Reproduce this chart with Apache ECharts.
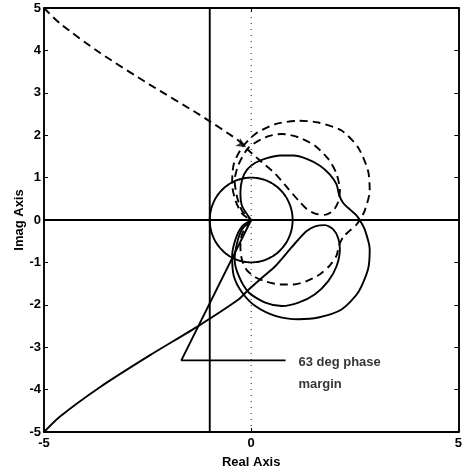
<!DOCTYPE html>
<html>
<head>
<meta charset="utf-8">
<script src="https://cdn.jsdelivr.net/npm/echarts@6/dist/echarts.min.js"></script>
<style>
  html, body { margin: 0; padding: 0; background: #fff; }
  #chart { width: 465px; height: 474px; }
</style>
</head>
<body>
<div id="chart"></div>
<script>
// Axis ranges and tick steps
const xRange = [-5, 5];
const yRange = [-5, 5];
const xStep = 5;
const yStep = 1;

// Positive-frequency branch: comes in from the lower left, runs through the
// small inner loop and ends at the origin
const tailLoop = [
  [-5.00, -5.00], [-4.62, -4.64], [-3.66, -3.95], [-2.46, -3.20], [-1.26, -2.49],
  [-0.30, -1.87], [-0.06, -1.64], [0.26, -1.36], [0.58, -1.09], [0.90, -0.73],
  [1.14, -0.46], [1.34, -0.26], [1.54, -0.15], [1.78, -0.12], [1.98, -0.22],
  [2.10, -0.43], [2.14, -0.69], [2.06, -1.09], [1.86, -1.44], [1.54, -1.75],
  [1.14, -1.95], [0.74, -2.03], [0.34, -1.95], [-0.06, -1.71], [-0.30, -1.32],
  [-0.40, -0.93], [-0.34, -0.54], [-0.22, -0.22], [0, 0]
];

// Second solid locus: upper lobe out to the real-axis crossing, then the
// large lower loop back to the origin
const bigLoop = [
  [0, 0], [-0.22, 0.33], [-0.26, 0.64], [-0.22, 0.95], [-0.10, 1.19], [0.10, 1.35],
  [0.38, 1.46], [0.70, 1.52], [1.02, 1.52], [1.34, 1.44], [1.66, 1.28], [1.90, 1.07],
  [2.06, 0.84], [2.12, 0.60], [2.22, 0.40], [2.38, 0.25], [2.54, 0.11], [2.62, 0],
  [2.74, -0.22], [2.86, -0.69], [2.82, -1.16], [2.58, -1.71], [2.18, -2.11],
  [1.62, -2.30], [1.14, -2.34], [0.58, -2.26], [0.10, -2.03], [-0.22, -1.71],
  [-0.42, -1.32], [-0.46, -0.85], [-0.38, -0.46], [-0.22, -0.15], [0, 0]
];

// Direction arrow on the negative-frequency branch: position and heading (deg)
const arrowAt = [-0.12, 1.72];
const arrowHeading = [-120];

// Phase-margin annotation
const phaseMarginDeg = [63];
const pmLineEndY = [-3.31];
const pmLabelEndX = [0.83];
const pmLabelText = ['63 deg phase', 'margin'];

// Unit circle (centre, radius)
const unitCircle = [0, 0, 1];

// Negative-frequency branch is the complex conjugate of the positive one
const conj = pts => pts.map(([re, im]) => [re, -im]);

const circlePts = [];
for (let i = 0; i <= 180; i++) {
  const a = (i / 180) * 2 * Math.PI;
  circlePts.push([unitCircle[0] + unitCircle[2] * Math.cos(a), unitCircle[1] + unitCircle[2] * Math.sin(a)]);
}

// Ray from the origin through the unit-circle crossing at -180 + PM degrees
const pmAng = (-180 + phaseMarginDeg[0]) * Math.PI / 180;
const pmT = pmLineEndY[0] / Math.sin(pmAng);
const pmCorner = [pmT * Math.cos(pmAng), pmLineEndY[0]];
const pmLine = [[0, 0], pmCorner, [pmLabelEndX[0], pmLineEndY[0]]];

const FONT = 'Liberation Sans, Arial, Helvetica, sans-serif';
const solid = { color: '#000', width: 1.9 };
const dashed = { color: '#000', width: 1.9, type: [8, 5] };

function lineSeries(data, style, z) {
  return {
    type: 'line', data, showSymbol: false, symbol: 'none', smooth: 0.25,
    lineStyle: style, silent: true, animation: false, z: z || 2, clip: true
  };
}

const labelFont = { color: '#000', fontFamily: FONT, fontWeight: 'bold', fontSize: 13 };

const chart = echarts.init(document.getElementById('chart'), null, { renderer: 'canvas' });
chart.setOption({
  backgroundColor: '#fff',
  animation: false,
  grid: { left: 44, top: 8, width: 417, height: 425, show: false },
  xAxis: [{
    type: 'value', min: xRange[0], max: xRange[1], interval: xStep,
    name: 'Real Axis', nameLocation: 'middle', nameGap: 24,
    nameTextStyle: labelFont,
    axisLine: { show: true, onZero: false, lineStyle: { color: '#000', width: 1.9 } },
    axisTick: { show: true, inside: true, length: 4, lineStyle: { color: '#000' } },
    axisLabel: Object.assign({ margin: 5 }, labelFont),
    splitLine: { show: false }
  }, {
    type: 'value', position: 'top', min: xRange[0], max: xRange[1], interval: xStep,
    axisLine: { show: true, onZero: false, lineStyle: { color: '#000', width: 1.9 } },
    axisTick: { show: true, inside: true, length: 4, lineStyle: { color: '#000' } },
    axisLabel: { show: false }, splitLine: { show: false }
  }],
  yAxis: [{
    type: 'value', min: yRange[0], max: yRange[1], interval: yStep,
    name: 'Imag Axis', nameLocation: 'middle', nameGap: 18, nameRotate: 90,
    nameMoveOverlap: false,
    nameTextStyle: labelFont,
    axisLine: { show: true, onZero: false, lineStyle: { color: '#000', width: 1.9 } },
    axisTick: { show: true, inside: true, length: 4, lineStyle: { color: '#000' } },
    axisLabel: Object.assign({ margin: 3 }, labelFont),
    splitLine: { show: false }
  }, {
    type: 'value', position: 'right', min: yRange[0], max: yRange[1], interval: yStep,
    axisLine: { show: true, onZero: false, lineStyle: { color: '#000', width: 1.9 } },
    axisTick: { show: true, inside: true, length: 4, lineStyle: { color: '#000' } },
    axisLabel: { show: false }, splitLine: { show: false }
  }],
  series: [
    // reference lines: real axis, the -1 line and the dotted imaginary axis
    { type: 'line', data: [[xRange[0], 0], [xRange[1], 0]], symbol: 'none', lineStyle: { color: '#000', width: 1.9 }, silent: true, z: 1 },
    { type: 'line', data: [[-1, yRange[0]], [-1, yRange[1]]], symbol: 'none', lineStyle: { color: '#000', width: 1.9 }, silent: true, z: 1 },
    { type: 'line', data: [[0, yRange[0]], [0, yRange[1]]], symbol: 'none', lineStyle: { color: '#222', width: 1, type: [1, 5] }, silent: true, z: 1 },
    lineSeries(circlePts, solid, 2),
    lineSeries(tailLoop, solid, 3),
    lineSeries(bigLoop, solid, 3),
    lineSeries(conj(tailLoop), dashed, 3),
    lineSeries(conj(bigLoop), dashed, 3),
    { type: 'line', data: pmLine, symbol: 'none', smooth: false, lineStyle: solid, silent: true, z: 3 },
    {
      type: 'scatter', data: [arrowAt], symbol: 'arrow', symbolSize: [7, 10],
      symbolRotate: arrowHeading[0], itemStyle: { color: '#000' }, silent: true, z: 4
    },
    {
      type: 'scatter', data: [[pmLabelEndX[0] + 0.31, pmLineEndY[0]]], symbolSize: 0, silent: true, z: 4,
      label: Object.assign({
        show: true, position: 'inside', align: 'left', verticalAlign: 'top', offset: [0, -9],
        formatter: pmLabelText.join('\n'), lineHeight: 22
      }, labelFont)
    }
  ]
});
</script>
</body>
</html>
